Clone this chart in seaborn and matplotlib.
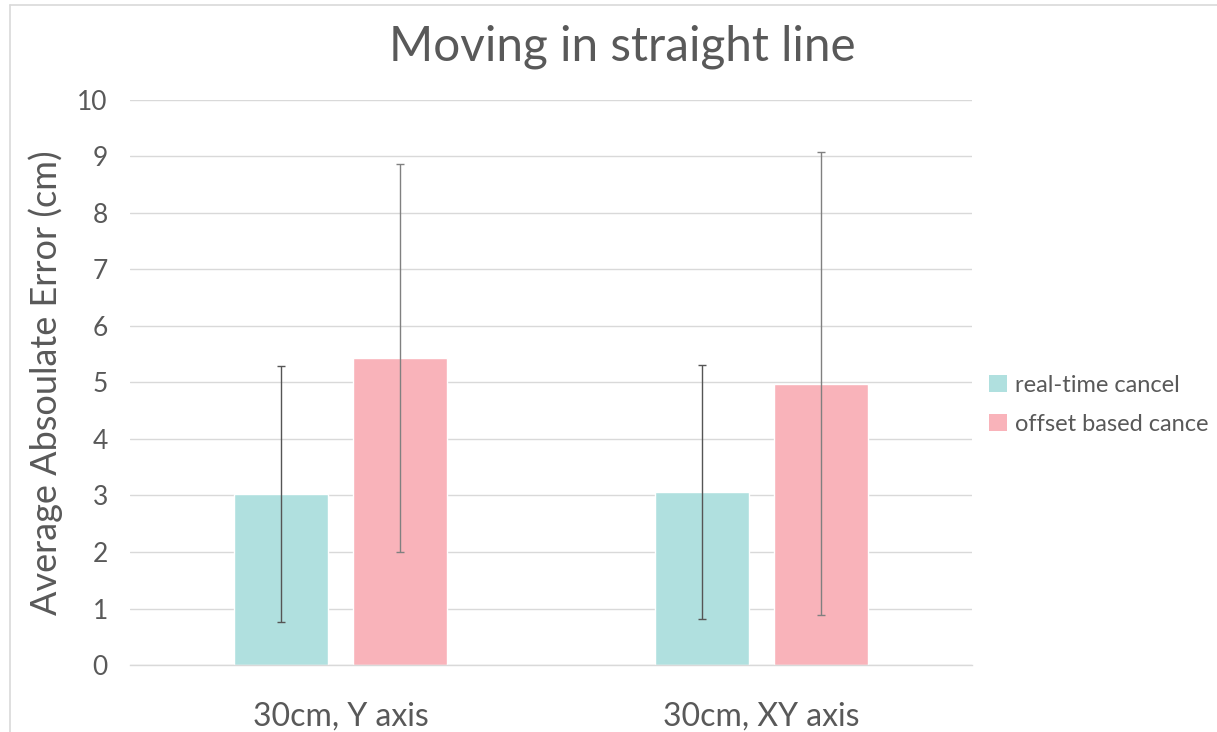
import matplotlib
matplotlib.use("Agg")
import matplotlib.pyplot as plt
import seaborn as sns
import pandas as pd
from matplotlib.lines import Line2D
from matplotlib.patches import Patch

categories = ["30cm, Y axis", "30cm, XY axis"]
series = ["real-time cancel", "offset based cance"]
real_time = [3.03, 3.06]
offset_based = [5.43, 4.98]
real_time_err = [2.27, 2.25]
offset_based_err = [3.43, 4.10]
y_ticks = [0, 1, 2, 3, 4, 5, 6, 7, 8, 9, 10]

colors = ["#b0e0df", "#f9b3ba"]
text_col = "#595959"
grid_col = "#d9d9d9"

df = pd.DataFrame({
    "category": categories * 2,
    "series": [series[0]] * 2 + [series[1]] * 2,
    "value": real_time + offset_based,
})
errs = {series[0]: real_time_err, series[1]: offset_based_err}

sns.set_theme(style="white")
plt.rcParams["font.family"] = ["Lato", "DejaVu Sans"]

fig = plt.figure(figsize=(12.17, 7.32), dpi=100)
ax = fig.add_axes([0.1068, 0.0915, 0.692, 0.772])

sns.barplot(data=df, x="category", y="value", hue="series", order=categories,
            hue_order=series, palette=colors, width=0.568, gap=0.213,
            saturation=1, ax=ax, legend=False, errorbar=None, zorder=2)

# error bars at bar centres
for container, s, ecol in zip(ax.containers, series, ["#555555", "#808080"]):
    xs = [p.get_x() + p.get_width() / 2 for p in container.patches]
    ys = [p.get_height() for p in container.patches]
    ax.errorbar(xs, ys, yerr=errs[s], fmt="none", ecolor=ecol, elinewidth=1.0,
                capsize=3, capthick=1.0, zorder=3)

ax.set_xlim(-0.5, 1.5)
ax.set_ylim(0, 10)
ax.set_yticks(y_ticks)
ax.set_yticklabels([str(t) for t in y_ticks])
ax.yaxis.grid(True, color=grid_col, linewidth=1.0, zorder=0)
ax.set_axisbelow(True)
for side in ["top", "right", "left"]:
    ax.spines[side].set_visible(False)
ax.spines["bottom"].set_color(grid_col)
ax.spines["bottom"].set_linewidth(1.0)
ax.tick_params(axis="both", length=0, colors=text_col)
ax.tick_params(axis="y", labelsize=19, pad=16)
ax.tick_params(axis="x", labelsize=23, pad=26)
ax.set_xlabel("")
ax.set_ylabel("Average Absoulate Error (cm)", fontsize=26, color=text_col, labelpad=10)

fig.suptitle("Moving in straight line", fontsize=34.3, color=text_col, x=0.511, y=0.966)

handles = [Patch(facecolor=c, edgecolor="none") for c in colors]
fig.legend(handles, series, loc="center left", bbox_to_anchor=(0.813, 0.447),
           frameon=False, fontsize=17, labelcolor=text_col, handlelength=0.75,
           handleheight=0.75, handletextpad=0.35, labelspacing=0.75, borderaxespad=0,
           borderpad=0)

# chart area border
fig.add_artist(Line2D([10 / 1217, 1.0], [1 - 5 / 732, 1 - 5 / 732], color="#d9d9d9", lw=1.2,
                      transform=fig.transFigure))
fig.add_artist(Line2D([10 / 1217, 10 / 1217], [0, 1 - 5 / 732], color="#d9d9d9", lw=1.2,
                      transform=fig.transFigure))

fig.savefig("out.png", dpi=100)
